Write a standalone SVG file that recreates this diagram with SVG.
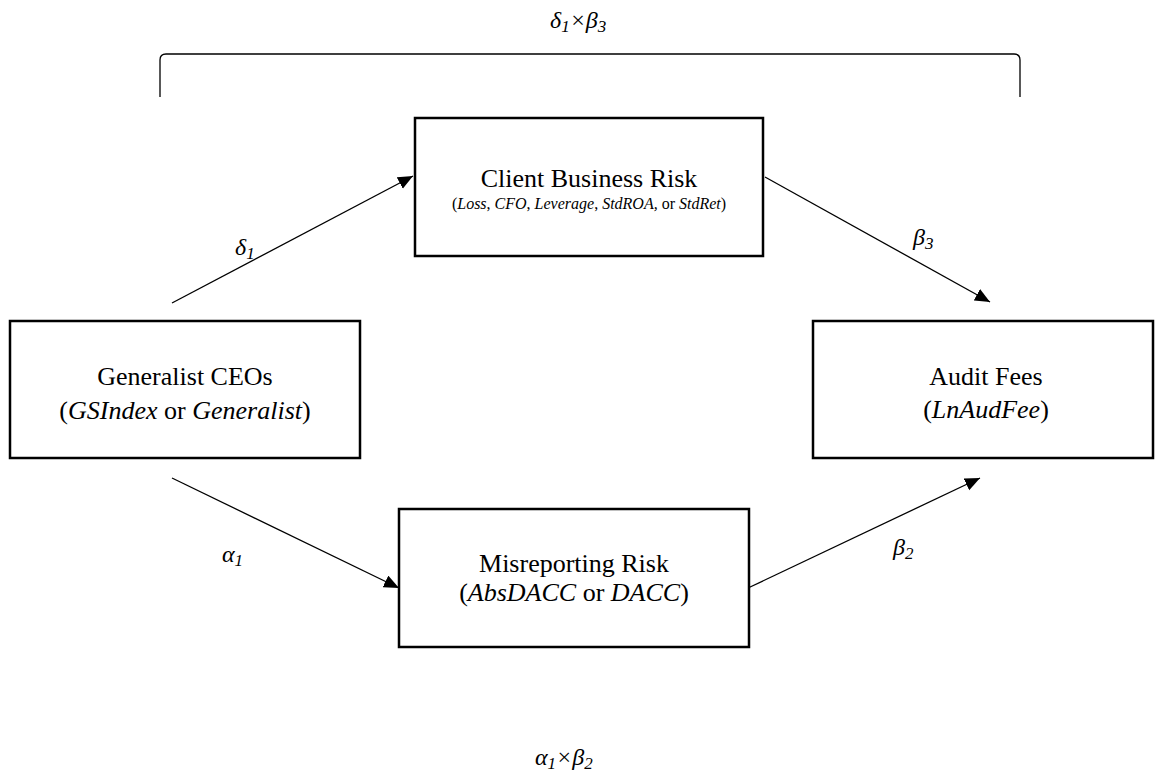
<svg xmlns="http://www.w3.org/2000/svg" width="1156" height="776" viewBox="0 0 1156 776">
<style>
.box{fill:#fff;stroke:#000;stroke-width:2.5}
.t{font-family:"Liberation Serif","Times New Roman",serif;font-size:26px;fill:#000;text-anchor:middle}
.s{font-family:"Liberation Serif","Times New Roman",serif;font-size:16px;fill:#000;text-anchor:middle}
.g{font-family:"Liberation Serif","Times New Roman",serif;font-size:24px;font-style:italic;fill:#000}
.sub{font-size:17px}
.i{font-style:italic}
.c{fill:none;stroke:#000;stroke-width:1.3}
</style>
<defs>
<marker id="ah" markerUnits="userSpaceOnUse" markerWidth="16" markerHeight="14" refX="15" refY="6.5" orient="auto">
<path d="M0,0 L15,6.5 L0,13 z" fill="#000"/>
</marker>
</defs>
<rect width="1156" height="776" fill="#fff"/>
<g id="connectors">
<path class="c" d="M160,97 L160,60 Q160,54 166,54 L1014,54 Q1020,54 1020,60 L1020,97"/>
<line class="c" x1="172" y1="303" x2="413" y2="176" marker-end="url(#ah)"/>
<line class="c" x1="765" y1="177" x2="990" y2="302" marker-end="url(#ah)"/>
<line class="c" x1="172" y1="478" x2="399" y2="588" marker-end="url(#ah)"/>
<line class="c" x1="748" y1="588" x2="980" y2="478" marker-end="url(#ah)"/>
<text class="g" x="550" y="28">δ<tspan class="sub" dy="4">1</tspan><tspan dy="-4">×β</tspan><tspan class="sub" dy="4">3</tspan></text>
<text class="g" x="235" y="255">δ<tspan class="sub" dy="4">1</tspan></text>
<text class="g" x="913" y="245">β<tspan class="sub" dy="4">3</tspan></text>
<text class="g" x="222" y="562">α<tspan class="sub" dy="4">1</tspan></text>
<text class="g" x="893" y="555">β<tspan class="sub" dy="4">2</tspan></text>
<text class="g" x="535" y="765">α<tspan class="sub" dy="4">1</tspan><tspan dy="-4">×β</tspan><tspan class="sub" dy="4">2</tspan></text>
</g>
<g id="client">
<rect class="box" x="415" y="118" width="348" height="138"/>
<text class="t" x="589" y="187">Client Business Risk</text>
<text class="s" x="589" y="209">(<tspan class="i">Loss</tspan>, <tspan class="i">CFO</tspan>, <tspan class="i">Leverage</tspan>, <tspan class="i">StdROA,</tspan> or <tspan class="i">StdRet</tspan>)</text>
</g>
<g id="generalist">
<rect class="box" x="10" y="321" width="350" height="137"/>
<text class="t" x="185" y="385">Generalist CEOs</text>
<text class="t" x="185" y="419">(<tspan class="i">GSIndex</tspan> or <tspan class="i">Generalist</tspan>)</text>
</g>
<g id="audit">
<rect class="box" x="813" y="321" width="340" height="137"/>
<text class="t" x="986" y="385">Audit Fees</text>
<text class="t" x="986" y="418">(<tspan class="i">LnAudFee</tspan>)</text>
</g>
<g id="misreporting">
<rect class="box" x="399" y="509" width="350" height="138"/>
<text class="t" x="574" y="572">Misreporting Risk</text>
<text class="t" x="574" y="601">(<tspan class="i">AbsDACC</tspan> or <tspan class="i">DACC</tspan>)</text>
</g>
</svg>
